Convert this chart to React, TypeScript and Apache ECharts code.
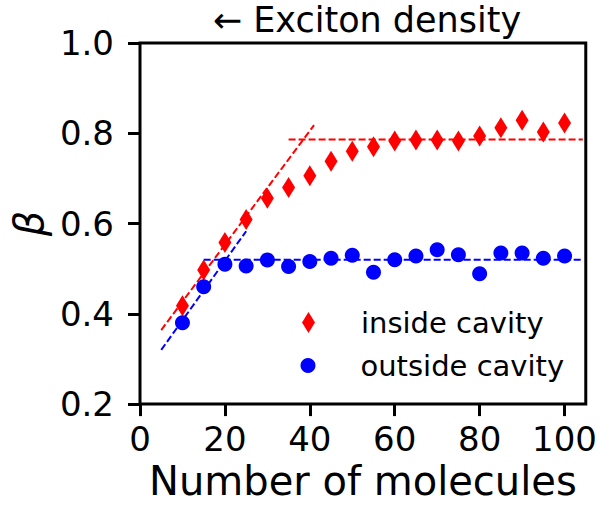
import React, { useEffect, useRef } from "react";
import * as echarts from "echarts";

const moleculeCounts = [10, 15, 20, 25, 30, 35, 40, 45, 50, 55, 60, 65, 70, 75, 80, 85, 90, 95, 100];
const insideCavity = [0.418, 0.497, 0.558, 0.609, 0.656, 0.68, 0.706, 0.738, 0.76, 0.77, 0.783, 0.785, 0.785, 0.783, 0.794, 0.812, 0.829, 0.803, 0.823];
const outsideCavity = [0.38, 0.46, 0.51, 0.506, 0.519, 0.505, 0.516, 0.523, 0.53, 0.492, 0.52, 0.528, 0.542, 0.531, 0.489, 0.535, 0.535, 0.523, 0.528];

const insideRiseFit = [[5, 0.364], [41, 0.818]];
const insidePlateauFit = [[35, 0.786], [104.3, 0.786]];
const outsideRiseFit = [[5, 0.32], [25, 0.583]];
const outsidePlateauFit = [[15, 0.52], [104.3, 0.52]];

const xTicks = [0, 20, 40, 60, 80, 100];
const titleText = "← Exciton density";
const xName = "Number of molecules";
const yName = "β";

const FONT = "DejaVu Sans";

export default function App() {
  const ref = useRef<HTMLDivElement>(null);
  useEffect(() => {
    if (!ref.current) return;
    const chart = echarts.init(ref.current, undefined, { renderer: "svg" });
    const dashed = (color: string, data: number[][]) => ({
      type: "line",
      data,
      showSymbol: false,
      symbol: "none",
      silent: true,
      lineStyle: { color, width: 2, type: [7, 3] },
      z: 1,
    });
    chart.setOption({
      animation: false,
      backgroundColor: "#ffffff",
      textStyle: { fontFamily: FONT },
      grid: {
        left: 140,
        right: 11,
        top: 43,
        bottom: 98,
        show: true,
        borderColor: "#000",
        borderWidth: 3,
        backgroundColor: "transparent",
      },
      graphic: [
        {
          type: "text",
          style: {
            text: titleText,
            x: 367,
            y: 2,
            textAlign: "center",
            textVerticalAlign: "top",
            fontFamily: FONT,
            fontSize: 35,
            fill: "#000",
          },
        },
      ],
      legend: [
        {
          data: ["inside cavity"],
          left: 302,
          top: 308,
          padding: 0,
          itemWidth: 13,
          itemHeight: 21,
          textStyle: { fontFamily: FONT, fontSize: 29, color: "#000", padding: [0, 0, 0, 41] },
          selectedMode: false,
        },
        {
          data: ["outside cavity"],
          left: 300.5,
          top: 351,
          padding: 0,
          itemWidth: 15,
          itemHeight: 15,
          textStyle: { fontFamily: FONT, fontSize: 29, color: "#000", padding: [0, 0, 0, 40] },
          selectedMode: false,
        },
      ],
      xAxis: {
        type: "value",
        min: 0,
        max: 105,
        interval: 20,
        name: xName,
        nameLocation: "middle",
        nameGap: 55,
        nameTextStyle: { fontFamily: FONT, fontSize: 40, color: "#000" },
        axisLine: { show: false },
        axisTick: { show: true, length: 12, lineStyle: { color: "#000", width: 3 }, customValues: xTicks },
        axisLabel: {
          customValues: xTicks,
          fontFamily: FONT,
          fontSize: 34,
          color: "#000",
          margin: 18,
        },
        splitLine: { show: false },
      },
      yAxis: {
        type: "value",
        min: 0.2,
        max: 1.0,
        interval: 0.2,
        name: yName,
        nameLocation: "middle",
        nameRotate: 90,
        nameGap: 87,
        nameTextStyle: { fontFamily: FONT, fontSize: 40, fontStyle: "italic", color: "#000" },
        axisLine: { show: false },
        axisTick: { show: true, length: 12, lineStyle: { color: "#000", width: 3 } },
        axisLabel: {
          fontFamily: FONT,
          fontSize: 34,
          color: "#000",
          margin: 26,
          formatter: (v: number) => v.toFixed(1),
        },
        splitLine: { show: false },
      },
      series: [
        dashed("#ff0000", insideRiseFit),
        dashed("#ff0000", insidePlateauFit),
        dashed("#0000ff", outsideRiseFit),
        dashed("#0000ff", outsidePlateauFit),
        {
          name: "inside cavity",
          type: "scatter",
          symbol: "diamond",
          symbolSize: [13, 21],
          itemStyle: { color: "#ff0000", opacity: 1 },
          data: moleculeCounts.map((x, i) => [x, insideCavity[i]]),
          z: 3,
        },
        {
          name: "outside cavity",
          type: "scatter",
          symbol: "circle",
          symbolSize: 15,
          itemStyle: { color: "#0000ff", opacity: 1 },
          data: moleculeCounts.map((x, i) => [x, outsideCavity[i]]),
          z: 3,
        },
      ],
    });
    return () => chart.dispose();
  }, []);
  return <div ref={ref} style={{ width: 600, height: 506, position: "absolute", left: 0, top: 0 }} />;
}
